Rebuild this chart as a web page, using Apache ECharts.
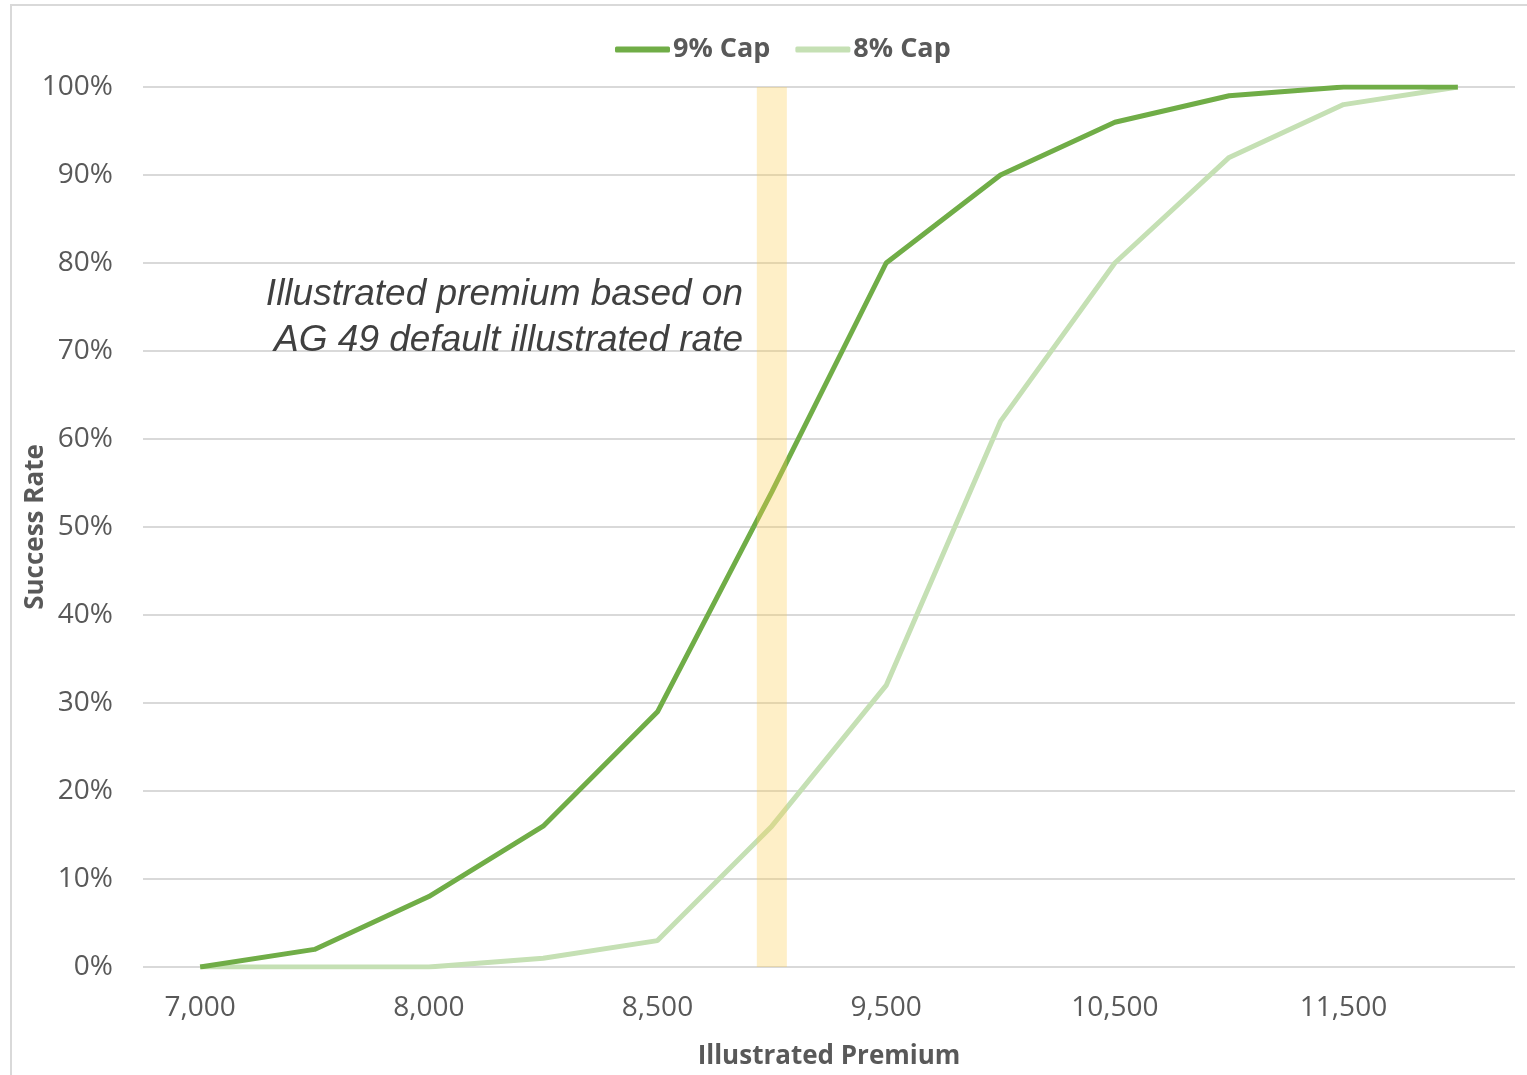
<!DOCTYPE html>
<html>
<head>
<meta charset="utf-8">
<script src="https://cdn.jsdelivr.net/npm/echarts@6/dist/echarts.min.js"></script>
<style>
html,body{margin:0;padding:0;background:#fff;}
#c{width:1527px;height:1075px;}
</style>
</head>
<body>
<div id="c"></div>
<script>
const categories = ['7,000','7,500','8,000','8,250','8,500','9,000','9,500','10,000','10,500','11,000','11,500','12,000'];
const cap9 = [0, 2, 8, 16, 29, 54, 80, 90, 96, 99, 100, 100];
const cap8 = [0, 0, 0, 1, 3, 16, 32, 62, 80, 92, 98, 100];
const bandValues = [null, null, null, null, null, 100, null, null, null, null, null, null];
const yTicks = [0, 10, 20, 30, 40, 50, 60, 70, 80, 90, 100];
const annotationLines = ['Illustrated premium based on', 'AG 49 default illustrated rate'];

const chart = echarts.init(document.getElementById('c'));
const grey = '#595959';
const annFont = 'italic 37px "Liberation Sans", Arial, sans-serif';
chart.setOption({
  backgroundColor: '#fff',
  animation: false,
  graphic: [
    { type: 'rect', shape: { x: 11, y: 5, width: 1540, height: 1100 }, style: { fill: 'none', stroke: '#d9d9d9', lineWidth: 2 }, z: -1 },
    { type: 'text', x: 743, y: 295, style: { text: annotationLines[0], font: annFont, fill: '#404040', align: 'right', verticalAlign: 'middle' }, z: 10 },
    { type: 'text', x: 743, y: 341, style: { text: annotationLines[1], font: annFont, fill: '#404040', align: 'right', verticalAlign: 'middle' }, z: 10 }
  ],
  legend: {
    data: ['9% Cap', '8% Cap'],
    left: 610, top: 31,
    icon: 'roundRect',
    itemWidth: 55, itemHeight: 6, itemGap: 25,
    textStyle: { fontFamily: '"Open Sans", sans-serif', fontWeight: 'bold', fontSize: 27, color: grey, padding: [0, 0, 0, -2] }
  },
  grid: { left: 143, right: 12, top: 87, bottom: 108, containLabel: false, outerBoundsMode: 'none' },
  xAxis: {
    type: 'category',
    data: categories,
    boundaryGap: true,
    axisLine: { show: false },
    axisTick: { show: false },
    axisLabel: { interval: 1, margin: 27, fontSize: 28, color: grey, fontFamily: '"Open Sans", sans-serif' },
    name: 'Illustrated Premium',
    nameLocation: 'middle',
    nameGap: 77,
    nameMoveOverlap: false,
    nameTextStyle: { fontSize: 26, fontWeight: 'bold', color: grey, fontFamily: '"Open Sans", sans-serif' }
  },
  yAxis: {
    type: 'value',
    min: yTicks[0], max: yTicks[yTicks.length - 1], interval: yTicks[1] - yTicks[0],
    axisLine: { show: false },
    axisTick: { show: false },
    splitLine: { lineStyle: { color: '#d9d9d9', width: 2 } },
    axisLabel: { formatter: '{value}%', margin: 30, fontSize: 28, color: grey, fontFamily: '"Open Sans", sans-serif' },
    name: 'Success Rate',
    nameLocation: 'middle',
    nameGap: 94,
    nameMoveOverlap: false,
    nameTextStyle: { fontSize: 26, fontWeight: 'bold', color: grey, fontFamily: '"Open Sans", sans-serif' }
  },
  series: [
    { name: '9% Cap', type: 'line', data: cap9, showSymbol: false, symbol: 'none', lineStyle: { width: 5, color: '#70ad47' }, itemStyle: { color: '#70ad47' }, z: 3 },
    { name: '8% Cap', type: 'line', data: cap8, showSymbol: false, symbol: 'none', lineStyle: { width: 5, color: '#c5e0b4' }, itemStyle: { color: '#c5e0b4' }, z: 2 },
    { name: 'band', type: 'bar', data: bandValues, barWidth: 30, itemStyle: { color: 'rgba(252,205,80,0.32)' }, z: 5, silent: true, barGap: '-100%' }
  ]
});
</script>
</body>
</html>
